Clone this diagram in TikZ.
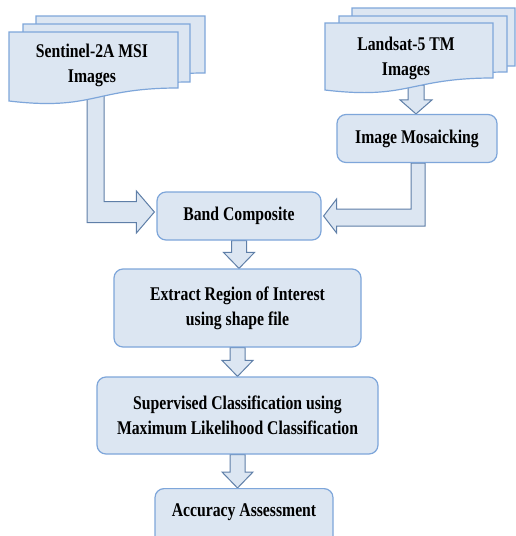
\documentclass[tikz,border=0pt]{standalone}
\usepackage{fontspec}
\newfontfamily\boxfam{Liberation Serif}[FakeStretch=0.81]
\usetikzlibrary{calc}
\definecolor{boxfill}{HTML}{DCE6F2}
\definecolor{boxline}{HTML}{7EA6DA}
\definecolor{arrline}{HTML}{5F7FA8}
\newcommand\boxfont{\boxfam\bfseries\fontsize{19.4}{25}\selectfont}
\pgfdeclarelayer{back}
\pgfdeclarelayer{mid}
\pgfsetlayers{back,mid,main}
\tikzset{
  box/.style={draw=boxline, fill=boxfill, line width=1.2pt, rounded corners=9pt, inner sep=0pt, align=center, font=\boxfont},
  txt/.style={align=center, font=\boxfont, inner sep=0pt},
  doc/.style={draw=boxline, fill=boxfill, line width=1.2pt},
  barrow/.style={draw=arrline, fill=boxfill, line width=1pt, line join=miter},
}
% x1 x2 top rightbottom leftbottom control
\newcommand\docshape[6]{\filldraw[doc] (#1,#3) -- (#2,#3) -- (#2,#4) .. controls ({(#1+#2)/2},#4) and ({(#1+#2)/2},#6) .. (#1,#5) -- cycle;}
% source, target, tip name
\newcommand\downarr[3]{%
  \coordinate (#3) at (#1.south |- #2.north);
  \filldraw[barrow] ($(#1.south)+(-7.5,0)$) -- ($(#1.south)+(7.5,0)$) -- ($(#3)+(7.5,-16)$) -- ($(#3)+(15.5,-16)$) -- (#3) -- ($(#3)+(-15.5,-16)$) -- ($(#3)+(-7.5,-16)$) -- cycle;}
\begin{document}
\begin{tikzpicture}[x=1pt,y=-1pt]
\useasboundingbox (0,0) rectangle (516,536);
\clip (0,0) rectangle (516,536);
\begin{pgfonlayer}{back}
  \fill[white] (0,0) rectangle (516,536);
\end{pgfonlayer}

% boxes
\node[box, minimum width=160, minimum height=48] (mosaic) at (417,138.5) {Image Mosaicking};
\node[box, minimum width=164, minimum height=48] (band) at (239,216) {Band Composite};
\node[box, minimum width=247, minimum height=78] (extract) at (237.5,308) {Extract Region of Interest\\using shape file};
\node[box, minimum width=281, minimum height=77] (superv) at (237.5,415.5) {Supervised Classification using\\Maximum Likelihood Classification};
\node[box, minimum width=178, minimum height=62, anchor=north] (acc) at (244,488) {};
\node[txt] (acctext) at (244,512) {Accuracy Assessment};

% document stacks
\docshape{36}{205}{16}{73}{86}{96}
\docshape{23}{190}{24}{82}{95}{105}
\docshape{9}{178}{32}{88}{101}{111}
\docshape{352}{515}{8}{66}{79}{89}
\docshape{339}{507}{16}{72}{85}{95}
\docshape{325}{493}{23}{78}{90}{100}
\node[txt] (sent) at (92,65) {Sentinel-2A MSI\\Images};
\node[txt] (land) at (406,58) {Landsat-5 TM\\Images};

\coordinate (sdn) at (95.5,95);
\coordinate (ldn) at (416,85);

\begin{pgfonlayer}{mid}
  % Landsat -> mosaicking
  \coordinate (mtip) at (ldn |- mosaic.north);
  \filldraw[barrow] ($(ldn)+(-8,0)$) -- ($(ldn)+(8,0)$) -- ($(mtip)+(8,-14)$) -- ($(mtip)+(16,-14)$) -- (mtip) -- ($(mtip)+(-16,-14)$) -- ($(mtip)+(-8,-14)$) -- cycle;
  % Sentinel -> band composite
  \coordinate (ltip) at ($(band.west)+(-2,-4)$);
  \filldraw[barrow] ($(sdn)+(-8.5,0)$) -- ($(sdn)+(8.5,0)$) -- ($(sdn |- ltip)+(8.5,-10.5)$) -- ($(ltip)+(-18,-10.5)$) -- ($(ltip)+(-18,-21)$) -- (ltip) -- ($(ltip)+(-18,21)$) -- ($(ltip)+(-18,10.5)$) -- ($(sdn |- ltip)+(-8.5,10.5)$) -- cycle;
  % mosaicking -> band composite
  \coordinate (rdn) at ($(mosaic.south)+(1,0)$);
  \coordinate (rtip) at ($(band.east)+(2,0)$);
  \filldraw[barrow] ($(rdn)+(-7,0)$) -- ($(rdn)+(7,0)$) -- ($(rdn |- rtip)+(7,10)$) -- ($(rtip)+(13,10)$) -- ($(rtip)+(13,17)$) -- (rtip) -- ($(rtip)+(13,-17)$) -- ($(rtip)+(13,-7)$) -- ($(rdn |- rtip)+(-7,-7)$) -- cycle;
  % vertical chain
  \downarr{band}{extract}{t1}
  \downarr{extract}{superv}{t2}
  \downarr{superv}{acc}{t3}
\end{pgfonlayer}
\end{tikzpicture}
\end{document}
